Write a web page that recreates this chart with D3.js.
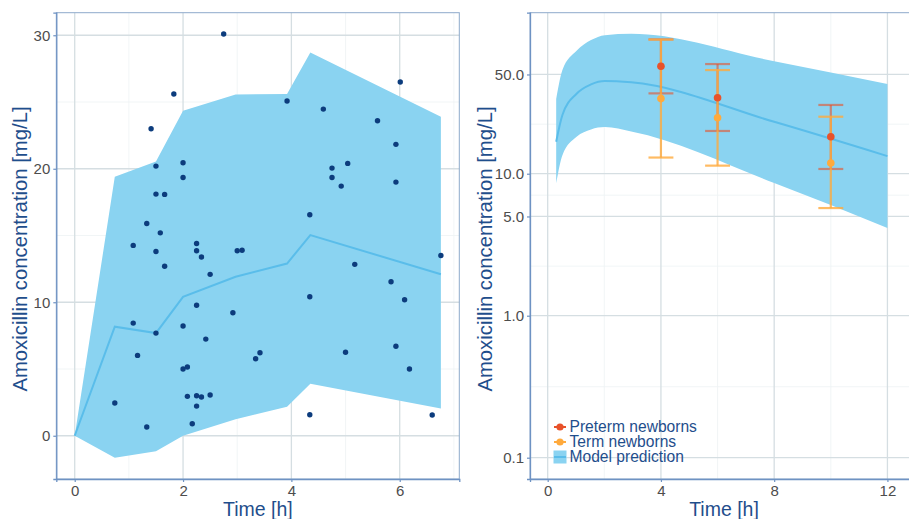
<!DOCTYPE html>
<html><head><meta charset="utf-8">
<script src="https://cdn.jsdelivr.net/npm/d3@7"></script>
<style>
body{margin:0;background:#fff;}
svg{display:block;font-family:"Liberation Sans",Arial,sans-serif;}
</style></head>
<body>
<svg id="chart" width="909" height="519"></svg>
<script>
// ---------- Left panel data ----------
const obsTime = [2.75,1.83,1.41,1.50,2.00,2.00,1.50,1.66,1.33,1.58,1.08,1.50,2.25,2.25,2.34,3.00,3.09,
  3.92,4.59,6.01,5.59,5.93,4.75,4.75,5.04,4.92,5.93,4.34,6.76,
  1.66,2.50,5.17,5.84,4.34,6.09,2.25,2.92,1.08,2.00,1.50,2.42,1.16,3.34,3.42,5.00,5.93,2.00,2.08,6.18,
  0.74,2.08,2.25,2.34,2.50,2.25,2.17,1.33,4.34,6.60];
const obsConc = [30.1,25.6,23.0,20.2,20.45,19.35,18.1,18.08,15.9,15.2,14.26,13.8,14.4,13.86,13.39,13.86,13.89,
  25.07,24.47,26.5,23.6,21.83,20.05,19.35,20.4,18.7,19.0,16.55,13.5,
  12.7,12.09,12.84,11.54,10.41,10.19,9.77,9.21,8.44,8.22,7.69,7.24,6.02,5.77,6.22,6.25,6.7,5.0,5.15,5.0,
  2.45,2.95,3.0,2.9,3.05,2.22,0.9,0.65,1.57,1.55];
const predTime  = [0, 0.74, 1.5, 2.0, 2.97, 3.92, 4.35, 6.76];
const predMed   = [0, 8.17, 7.69, 10.41, 11.91, 12.9, 15.03, 12.1];
const predUpper = [0, 19.4, 20.55, 24.35, 25.57, 25.6, 28.7, 23.9];
const predLower = [0, -1.65, -1.17, 0.0, 1.23, 2.17, 3.9, 2.05];
const leftXTicks = [0, 2, 4, 6];
const leftYTicks = [0, 10, 20, 30];

// ---------- Right panel data ----------
const simTime  = [0.30, 0.52, 1.02, 1.53, 2.02, 2.95, 8.0, 12.0];
const simMed   = [16.8, 25.9, 36.6, 42.6, 45.0, 44.0, 23.2, 13.3];
const simUpper = [33.6, 53.7, 73.5, 87.4, 94.6, 96.8, 62.0, 42.8];
const simLower = [8.57, 13.5, 18.2, 20.5, 21.3, 19.8, 8.6, 4.15];
const groupTime = [4, 6, 10];
const pretermMean  = [57.1, 34.3, 18.2];
const pretermLow   = [36.8, 20.0, 10.8];
const pretermHigh  = [88.3, 59.2, 30.5];
const termMean     = [33.8, 24.8, 11.9];
const termLow      = [13.0, 11.4, 5.73];
const termHigh     = [88.0, 53.7, 25.2];
const rightXTicks = [0, 4, 8, 12];
const rightYTicks = [0.1, 1, 5, 10, 50];
const legendLabels = ["Preterm newborns", "Term newborns", "Model prediction"];

// ---------- styles ----------
const C = {
  ribbon: "#8AD3F1", line: "#5ABDEA", pt: "#0C3C7D",
  pre: "#E8522A", term: "#FFAA3C",
  gridMaj: "#D5DEE2", gridMin: "#EDF2F4", border: "#8EAACB", axis: "#6E92C3",
  tick: "#4D4D4D", title: "#1F4E8C"
};
const svg = d3.select("#chart");

function panel(g, x, y, xTicks, xMinor, yTicks, yMinor){
  const [x0,x1] = x.range(), [y0,y1] = y.range();
  g.append("g").selectAll("line").data(yMinor).join("line")
    .attr("x1",x0).attr("x2",x1).attr("y1",d=>y(d)).attr("y2",d=>y(d))
    .attr("stroke",C.gridMin).attr("stroke-width",0.8);
  g.append("g").selectAll("line").data(xMinor).join("line")
    .attr("y1",y0).attr("y2",y1).attr("x1",d=>x(d)).attr("x2",d=>x(d))
    .attr("stroke",C.gridMin).attr("stroke-width",0.8);
  g.append("g").selectAll("line").data(yTicks).join("line")
    .attr("x1",x0).attr("x2",x1).attr("y1",d=>y(d)).attr("y2",d=>y(d))
    .attr("stroke",C.gridMaj).attr("stroke-width",1.3);
  g.append("g").selectAll("line").data(xTicks).join("line")
    .attr("y1",y0).attr("y2",y1).attr("x1",d=>x(d)).attr("x2",d=>x(d))
    .attr("stroke",C.gridMaj).attr("stroke-width",1.3);
}
function frame(g, x, y, xTicks, yTicks, yFmt){
  const [x0,x1] = x.range(), [y0,y1] = y.range();
  g.append("rect").attr("x",x0).attr("y",y1).attr("width",x1-x0).attr("height",y0-y1)
    .attr("fill","none").attr("stroke",C.border).attr("stroke-width",1);
  const xa = g.append("g").attr("transform",`translate(0,${y0})`)
    .call(d3.axisBottom(x).tickValues(xTicks).tickSize(3).tickPadding(3).tickFormat(d3.format("d")));
  const ya = g.append("g").attr("transform",`translate(${x0},0)`)
    .call(d3.axisLeft(y).tickValues(yTicks).tickSize(3).tickPadding(3).tickFormat(yFmt));
  [xa,ya].forEach(a=>{
    a.select(".domain").attr("stroke",C.axis).attr("stroke-width",1.3);
    a.selectAll(".tick line").attr("stroke",C.axis).attr("stroke-width",1.2);
    a.selectAll("text").attr("fill",C.tick).attr("font-size",15)
      .attr("font-family","'Liberation Sans',Arial,sans-serif");
  });
}

// ---------- LEFT ----------
const xL = d3.scaleLinear().domain([-0.34, 7.10]).range([56.3, 459.3]);
const yL = d3.scaleLinear().domain([-3.24, 31.69]).range([479, 12.7]);
const gL = svg.append("g");
panel(gL, xL, yL, leftXTicks, [1,3,5,7], leftYTicks, [5,15,25]);
const predRows = predTime.map((t,i)=>({t, m:predMed[i], lo:predLower[i], hi:predUpper[i]}));
gL.append("path").datum(predRows)
  .attr("d", d3.area().x(d=>xL(d.t)).y0(d=>yL(d.lo)).y1(d=>yL(d.hi)))
  .attr("fill",C.ribbon);
gL.append("path").datum(predRows)
  .attr("d", d3.line().x(d=>xL(d.t)).y(d=>yL(d.m)))
  .attr("fill","none").attr("stroke",C.line).attr("stroke-width",2);
gL.append("g").selectAll("circle").data(obsTime.map((t,i)=>[t,obsConc[i]])).join("circle")
  .attr("cx",d=>xL(d[0])).attr("cy",d=>yL(d[1])).attr("r",2.7).attr("fill",C.pt);
frame(gL, xL, yL, leftXTicks, leftYTicks, d3.format("d"));
gL.append("text").attr("transform",`translate(26.5,249) rotate(-90)`)
  .attr("text-anchor","middle").attr("font-size",20.3).attr("fill",C.title)
  .text("Amoxicillin concentration [mg/L]");
gL.append("text").attr("x",(56.3+459.3)/2).attr("y",516).attr("text-anchor","middle")
  .attr("font-size",19.5).attr("fill",C.title).text("Time [h]");

// ---------- RIGHT ----------
const xR = d3.scaleLinear().domain([-0.625, 13.08]).range([530, 918]);
const yR = d3.scaleLog().domain([Math.pow(10,-1.15), Math.pow(10,2.134)]).range([479, 12.7]);
const gR = svg.append("g");
panel(gR, xR, yR, rightXTicks, [2,6,10], rightYTicks,
  [Math.pow(10,-0.5), Math.pow(10,0.349), Math.pow(10,0.849), Math.pow(10,1.349)]);
const simRows = simTime.map((t,i)=>({t, m:simMed[i], lo:simLower[i], hi:simUpper[i]}));
gR.append("path").datum(simRows)
  .attr("d", d3.area().curve(d3.curveMonotoneX).x(d=>xR(d.t)).y0(d=>yR(d.lo)).y1(d=>yR(d.hi)))
  .attr("fill",C.ribbon);
gR.append("path").datum(simRows)
  .attr("d", d3.line().curve(d3.curveMonotoneX).x(d=>xR(d.t)).y(d=>yR(d.m)))
  .attr("fill","none").attr("stroke",C.line).attr("stroke-width",2);

function errbars(g, lo, hi, color, op){
  const rows = groupTime.map((t,i)=>({t, lo:lo[i], hi:hi[i]}));
  const cw = xR(0.44) - xR(0);
  const eg = g.append("g").attr("stroke",color).attr("stroke-opacity",op).attr("stroke-width",2.2);
  eg.selectAll(".v").data(rows).join("line")
    .attr("x1",d=>xR(d.t)).attr("x2",d=>xR(d.t)).attr("y1",d=>yR(d.lo)).attr("y2",d=>yR(d.hi));
  eg.selectAll(".h").data(rows).join("line")
    .attr("x1",d=>xR(d.t)-cw).attr("x2",d=>xR(d.t)+cw).attr("y1",d=>yR(d.hi)).attr("y2",d=>yR(d.hi));
  eg.selectAll(".l").data(rows).join("line")
    .attr("x1",d=>xR(d.t)-cw).attr("x2",d=>xR(d.t)+cw).attr("y1",d=>yR(d.lo)).attr("y2",d=>yR(d.lo));
}
errbars(gR, pretermLow, pretermHigh, C.pre, 0.6);
errbars(gR, termLow, termHigh, C.term, 0.8);
gR.append("g").selectAll("circle").data(groupTime.map((t,i)=>[t,pretermMean[i]])).join("circle")
  .attr("cx",d=>xR(d[0])).attr("cy",d=>yR(d[1])).attr("r",3.8).attr("fill",C.pre);
gR.append("g").selectAll("circle").data(groupTime.map((t,i)=>[t,termMean[i]])).join("circle")
  .attr("cx",d=>xR(d[0])).attr("cy",d=>yR(d[1])).attr("r",3.8).attr("fill",C.term);
frame(gR, xR, yR, rightXTicks, rightYTicks, d3.format(".1f"));
gR.append("text").attr("transform",`translate(492,249) rotate(-90)`)
  .attr("text-anchor","middle").attr("font-size",20.3).attr("fill",C.title)
  .text("Amoxicillin concentration [mg/L]");
gR.append("text").attr("x",(530+918)/2).attr("y",516).attr("text-anchor","middle")
  .attr("font-size",19.5).attr("fill",C.title).text("Time [h]");

// legend
const lg = svg.append("g").attr("transform","translate(560,427)");
const legColors = [C.pre, C.term, C.ribbon];
legendLabels.forEach((lab,i)=>{
  const row = lg.append("g").attr("transform",`translate(0,${i*15})`);
  if(i<2){
    row.append("line").attr("x1",-6).attr("x2",6).attr("stroke",legColors[i]).attr("stroke-width",2);
    row.append("circle").attr("r",3.6).attr("fill",legColors[i]);
  } else {
    row.append("rect").attr("x",-6.5).attr("y",-6.5).attr("width",13).attr("height",13).attr("fill",C.ribbon);
    row.append("line").attr("x1",-6).attr("x2",6).attr("stroke",C.line).attr("stroke-width",2);
  }
  row.append("text").attr("x",9.5).attr("y",5.4).attr("font-size",15.6).attr("fill",C.title).text(lab);
});
</script>
</body></html>
